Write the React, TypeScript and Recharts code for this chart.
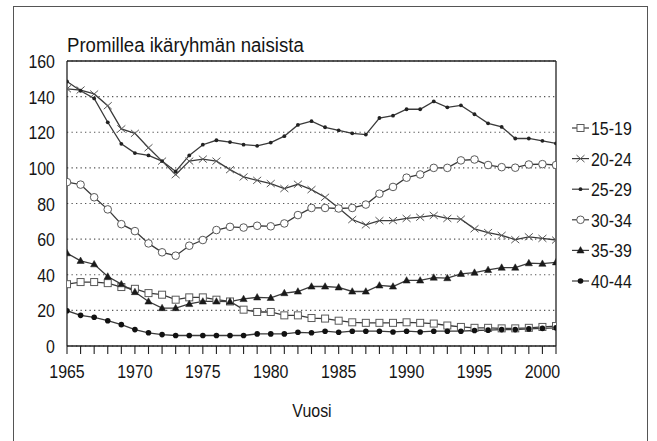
import React from 'react';
import { LineChart, Line, XAxis, YAxis, CartesianGrid, Legend, ReferenceLine } from 'recharts';

const years = [
  1965, 1966, 1967, 1968, 1969, 1970, 1971, 1972, 1973, 1974,
  1975, 1976, 1977, 1978, 1979, 1980, 1981, 1982, 1983, 1984,
  1985, 1986, 1987, 1988, 1989, 1990, 1991, 1992, 1993, 1994,
  1995, 1996, 1997, 1998, 1999, 2000, 2001,
];
const yTicks = [0, 20, 40, 60, 80, 100, 120, 140, 160];

const s1519 = [
  34.7, 35.9, 35.9, 35.3, 33.1, 32.1, 29.7, 28.8, 26.0, 27.3,
  27.3, 26.0, 25.0, 20.4, 19.1, 19.1, 17.2, 17.2, 15.7, 15.4,
  14.2, 13.3, 13.0, 13.0, 13.0, 13.3, 13.0, 12.6, 11.5, 10.7,
  10.2, 10.2, 9.9, 9.9, 10.2, 10.7, 11.2,
];
const s2024 = [
  144.4, 143.7, 141.5, 134.9, 121.9, 119.4, 111.3, 103.8, 96.2, 103.8,
  104.9, 103.8, 99.0, 94.9, 93.0, 91.2, 88.4, 90.8, 87.8, 83.5,
  77.5, 71.0, 68.0, 70.4, 70.4, 71.6, 72.3, 73.3, 71.6, 71.2,
  65.8, 63.7, 62.1, 59.7, 61.3, 60.4, 59.5,
];
const s2529 = [
  148.5, 143.3, 139.0, 125.6, 113.5, 108.3, 107.0, 103.8, 98.0, 107.0,
  113.0, 115.5, 114.5, 113.0, 112.4, 114.2, 117.8, 124.1, 126.2, 122.8,
  121.1, 119.4, 118.7, 128.0, 129.3, 132.9, 132.9, 137.3, 134.0, 135.1,
  130.1, 125.0, 123.0, 116.5, 116.5, 115.2, 113.7,
];
const s3034 = [
  92.0, 90.6, 83.5, 76.7, 68.4, 64.5, 57.6, 52.6, 50.7, 56.3,
  59.5, 65.1, 66.9, 66.5, 67.5, 67.2, 68.8, 73.5, 77.5, 77.5,
  77.2, 77.5, 79.4, 85.5, 89.3, 94.5, 96.3, 100.0, 100.0, 104.2,
  104.7, 101.6, 100.4, 100.1, 101.9, 102.1, 101.6,
];
const s3539 = [
  52.1, 47.8, 45.9, 39.0, 34.7, 30.3, 25.0, 21.3, 21.3, 23.6,
  25.0, 25.0, 24.9, 26.4, 27.3, 27.0, 29.7, 30.6, 33.4, 33.4,
  32.9, 30.6, 30.6, 34.0, 33.4, 36.8, 36.8, 38.4, 38.1, 40.5,
  41.2, 42.7, 44.0, 44.0, 46.5, 46.2, 47.0,
];
const s4044 = [
  19.8, 17.2, 16.1, 14.2, 12.0, 9.2, 7.4, 6.4, 5.9, 5.9,
  5.9, 5.9, 5.9, 5.9, 6.8, 6.8, 6.8, 7.7, 7.4, 8.3,
  7.7, 8.3, 8.3, 8.3, 7.9, 8.3, 7.9, 8.3, 8.3, 8.3,
  8.7, 8.9, 9.2, 9.2, 9.6, 9.9, 10.2,
];

const seriesNames = ['15-19', '20-24', '25-29', '30-34', '35-39', '40-44'];
const seriesValues = [s1519, s2024, s2529, s3034, s3539, s4044];
const seriesKeys = ['a1519', 'a2024', 'a2529', 'a3034', 'a3539', 'a4044'];

const data = years.map((year, i) => {
  const row: Record<string, number> = { year };
  seriesKeys.forEach((k, j) => {
    row[k] = seriesValues[j][i];
  });
  return row;
});

const FONT = "'Liberation Sans', Arial, sans-serif";
const TEXT = '#151515';
const LINE = '#3a3a3a';
const MARK = '#5a5a5a';
const NARROW = 0.84;

type MarkProps = { cx: number; cy: number };

const SquareMark = ({ cx, cy }: MarkProps) => (
  <rect x={cx - 3.5} y={cy - 3.5} width={7} height={7} fill="#fff" stroke={MARK} strokeWidth={1} />
);
const CrossMark = ({ cx, cy }: MarkProps) => (
  <path d={`M${cx - 4},${cy - 3.5}L${cx + 4},${cy + 3.5}M${cx - 4},${cy + 3.5}L${cx + 4},${cy - 3.5}`} stroke={MARK} strokeWidth={1} fill="none" />
);
const SmallDotMark = ({ cx, cy }: MarkProps) => <circle cx={cx} cy={cy} r={1.9} fill="#222" stroke="none" />;
const OpenCircleMark = ({ cx, cy }: MarkProps) => (
  <circle cx={cx} cy={cy} r={3.8} fill="#fff" stroke={MARK} strokeWidth={1} />
);
const TriangleMark = ({ cx, cy }: MarkProps) => (
  <path d={`M${cx},${cy - 3.8}L${cx + 3.6},${cy + 2.6}L${cx - 3.6},${cy + 2.6}Z`} fill="#1a1a1a" stroke="#1a1a1a" strokeWidth={0.5} />
);
const FilledCircleMark = ({ cx, cy }: MarkProps) => <circle cx={cx} cy={cy} r={2.8} fill="#111" stroke="none" />;

const markers = [SquareMark, CrossMark, SmallDotMark, OpenCircleMark, TriangleMark, FilledCircleMark];

const makeDot = (idx: number) => (props: any) => {
  const { cx, cy, index } = props;
  const M = markers[idx];
  if (cx == null || cy == null) return <g key={`e-${idx}-${index}`} />;
  return (
    <g key={`d-${idx}-${index}`}>
      <M cx={cx} cy={cy} />
    </g>
  );
};

const NarrowText = ({ x, y, anchor, children, size = 19 }: any) => (
  <text
    transform={`translate(${x},${y}) scale(${NARROW},1)`}
    textAnchor={anchor}
    fontSize={size}
    fontFamily={FONT}
    fill={TEXT}
  >
    {children}
  </text>
);

const YearTick = (props: any) => {
  const { x, y, payload } = props;
  if (payload.value % 5 !== 0) return <g />;
  return (
    <NarrowText x={x} y={y + 21.5} anchor="middle">
      {payload.value}
    </NarrowText>
  );
};

const ValueTick = (props: any) => {
  const { x, y, payload } = props;
  return (
    <NarrowText x={x} y={y + 7} anchor="end">
      {payload.value}
    </NarrowText>
  );
};

const LegendContent = () => (
  <svg width={82} height={190} style={{ overflow: 'visible' }}>
    {seriesNames.map((name, i) => {
      const cy = 16 + i * 30.6;
      const M = markers[i];
      return (
        <g key={name}>
          <line x1={2} x2={19} y1={cy} y2={cy} stroke={LINE} strokeWidth={1.2} />
          <M cx={10.5} cy={cy} />
          <NarrowText x={21} y={cy + 7} anchor="start">
            {name}
          </NarrowText>
        </g>
      );
    })}
  </svg>
);

export default function App() {
  return (
    <div style={{ position: 'absolute', left: 0, top: 0, width: 657, height: 441, background: '#fff', overflow: 'hidden' }}>
      <div
        style={{
          position: 'absolute',
          left: 13,
          top: 6,
          width: 635,
          height: 460,
          border: '1px solid #555',
          boxSizing: 'border-box',
        }}
      />
      <div
        style={{
          position: 'absolute',
          left: 67,
          top: 33,
          fontFamily: FONT,
          fontSize: 20,
          color: TEXT,
          whiteSpace: 'nowrap',
          lineHeight: '24px',
          transform: 'scaleX(0.93)',
          transformOrigin: 'left center',
        }}
      >
        Promillea ikäryhmän naisista
      </div>
      <div style={{ position: 'absolute', left: 0, top: 0 }}>
        <LineChart width={657} height={441} data={data} margin={{ top: 61, right: 101, bottom: 65, left: 12 }}>
          <CartesianGrid horizontal vertical={false} stroke="#555" strokeDasharray="1.3 3.2" strokeWidth={1.1} />
          <XAxis
            dataKey="year"
            type="number"
            domain={[1965, 2001]}
            ticks={years}
            interval={0}
            tick={<YearTick />}
            tickSize={8}
            tickMargin={2}
            axisLine={{ stroke: '#222', strokeWidth: 1.3 }}
            tickLine={{ stroke: '#222', strokeWidth: 1.1 }}
            height={30}
            allowDataOverflow
          />
          <YAxis
            type="number"
            domain={[0, 160]}
            ticks={yTicks}
            interval={0}
            width={55}
            tickSize={4}
            tickMargin={8}
            tickLine={false}
            axisLine={{ stroke: '#222', strokeWidth: 1.3 }}
            tick={<ValueTick />}
          />
          <ReferenceLine y={160} stroke="#222" strokeWidth={1.3} />
          <ReferenceLine x={2001} stroke="#222" strokeWidth={1.3} />
          {seriesKeys.map((k, i) => (
            <Line
              key={k}
              dataKey={k}
              name={seriesNames[i]}
              type="linear"
              stroke={LINE}
              strokeWidth={1.3}
              dot={makeDot(i)}
              activeDot={false}
              isAnimationActive={false}
            />
          ))}
          <Legend
            layout="vertical"
            align="center"
            verticalAlign="middle"
            width={82}
            height={190}
            wrapperStyle={{ left: 570, top: 112, width: 82, height: 190 }}
            content={<LegendContent />}
          />
        </LineChart>
      </div>
      <div
        style={{
          position: 'absolute',
          left: 312,
          top: 399,
          transform: 'translateX(-50%) scaleX(0.84)',
          fontFamily: FONT,
          fontSize: 19,
          color: TEXT,
          lineHeight: '24px',
        }}
      >
        Vuosi
      </div>
    </div>
  );
}
